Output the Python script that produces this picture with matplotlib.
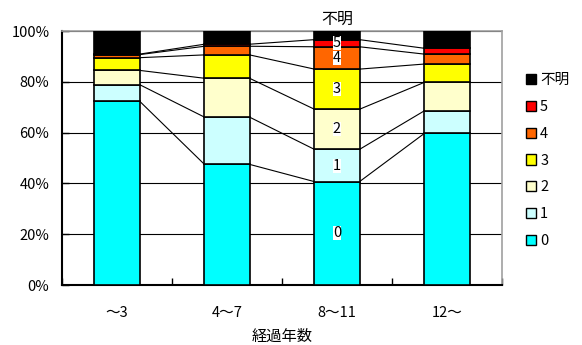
import matplotlib
matplotlib.use("Agg")
import matplotlib.pyplot as plt
from matplotlib.patches import Patch
import numpy as np

plt.rcParams['font.family'] = ['Noto Sans CJK JP', 'DejaVu Sans']

categories = ["～3", "4～7", "8～11", "12～"]
series_names = ["0", "1", "2", "3", "4", "5", "不明"]
values = {
    "0":    [72.4, 47.5, 40.7, 59.7],
    "1":    [6.5, 18.6, 12.7, 8.9],
    "2":    [5.6, 15.3, 15.8, 11.2],
    "3":    [5.0, 9.2, 15.8, 7.2],
    "4":    [1.2, 3.4, 8.8, 3.9],
    "5":    [0.2, 0.8, 2.8, 2.3],
    "不明": [9.1, 5.2, 3.4, 6.8],
}
colors = {
    "0": "#00FFFF", "1": "#CCFFFF", "2": "#FFFFCC", "3": "#FFFF00",
    "4": "#FF6600", "5": "#FF0000", "不明": "#000000",
}
xlabel = "経過年数"
yticks = [0, 20, 40, 60, 80, 100]
labelled_bar = 2

fig = plt.figure(figsize=(5.82, 3.45), dpi=100)
ax = fig.add_axes([0.1065, 0.1739, 0.756, 0.7362])

x = np.arange(len(categories))
width = 0.41
bottom = np.zeros(len(categories))
tops = {}
for name in series_names:
    v = np.array(values[name])
    ax.bar(x, v, width, bottom=bottom, color=colors[name],
           edgecolor="black", linewidth=1.2, zorder=3)
    mid = bottom + v / 2
    bottom = bottom + v
    tops[name] = bottom.copy()
    # segment labels on one bar
    if name == "不明":
        ax.text(x[labelled_bar], 104.5, name, ha="center", va="center",
                fontsize=11.5, zorder=6, clip_on=False,
                bbox=dict(facecolor="white", edgecolor="none", pad=0.5))
    else:
        ax.text(x[labelled_bar], mid[labelled_bar], name, ha="center",
                va="center", fontsize=10.5, zorder=6,
                bbox=dict(facecolor="white", edgecolor="none", pad=0.0))

# series lines joining segment tops between neighbouring bars
for name in series_names[:-1]:
    t = tops[name]
    for i in range(len(categories) - 1):
        ax.plot([x[i] + width / 2, x[i + 1] - width / 2], [t[i], t[i + 1]],
                color="black", linewidth=0.8, zorder=2)

ax.set_xlim(-0.5, len(categories) - 0.5)
ax.set_ylim(0, 100)
ax.set_yticks(yticks)
ax.set_yticklabels([f"{t}%" for t in yticks], fontsize=10.5)
ax.yaxis.grid(True, color="black", linewidth=0.8, zorder=1)
ax.set_axisbelow(True)

ax.set_xticks(np.arange(-0.5, len(categories), 1.0))
ax.set_xticklabels([])
ax.set_xticks(x, minor=True)
ax.set_xticklabels(categories, minor=True, fontsize=10.5)
ax.tick_params(axis="x", which="minor", length=0, pad=15)
ax.tick_params(axis="x", which="major", direction="in", length=5, width=1)
ax.tick_params(axis="y", direction="in", length=5, width=1, pad=9)
ax.set_xlabel(xlabel, fontsize=11, labelpad=6)

for s in ["left", "bottom"]:
    ax.spines[s].set_color("black")
    ax.spines[s].set_linewidth(1.5)
for s in ["top", "right"]:
    ax.spines[s].set_color("#A0A0A0")
    ax.spines[s].set_linewidth(1.2)

handles = [Patch(facecolor=colors[n], edgecolor="black", linewidth=1.0, label=n)
           for n in reversed(series_names)]
fig.legend(handles=handles, loc="upper left",
           bbox_to_anchor=(0.893, 0.805), frameon=False, fontsize=10.5,
           handlelength=0.7, handleheight=0.7, handletextpad=0.3,
           labelspacing=0.88, borderaxespad=0)

fig.savefig("out.png", dpi=100)
